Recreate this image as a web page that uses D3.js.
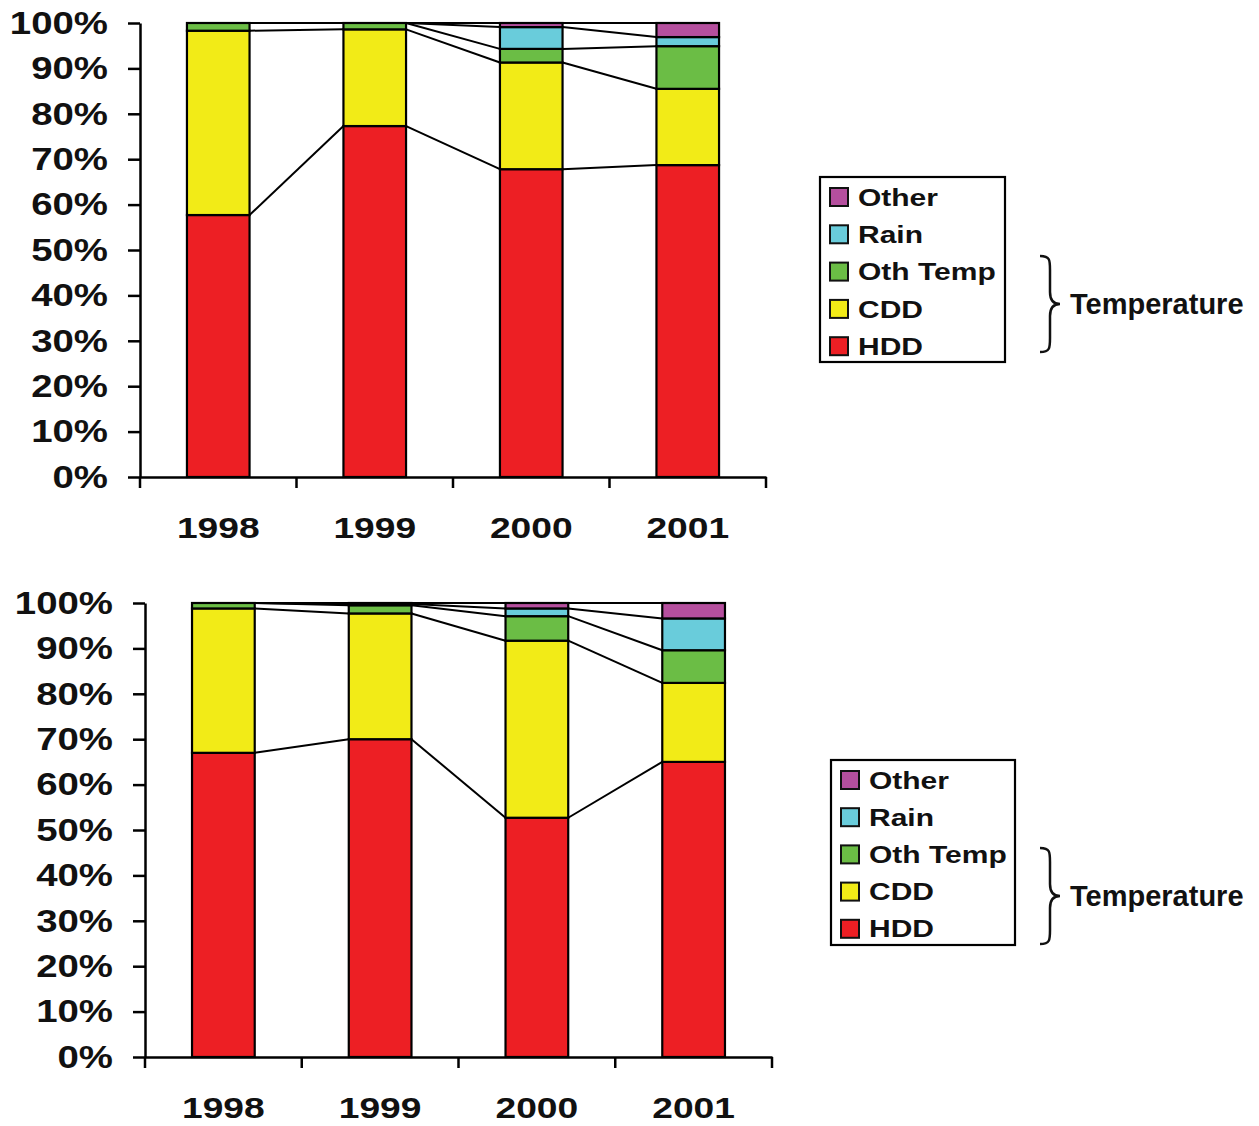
<!DOCTYPE html>
<html><head><meta charset="utf-8">
<script src="https://cdn.jsdelivr.net/npm/d3@7"></script>
<style>body{margin:0;background:#fff}svg{display:block}</style>
</head><body>
<svg id="c" width="1259" height="1126"></svg>
<script>
// ---- data ----
const years = ["1998", "1999", "2000", "2001"];
const seriesNames = ["HDD", "CDD", "Oth Temp", "Rain", "Other"];
const seriesColors = ["#ed1f24", "#f2eb17", "#6bbd45", "#69ccdb", "#b54f9e"];
const yTicks = [0, 0.1, 0.2, 0.3, 0.4, 0.5, 0.6, 0.7, 0.8, 0.9, 1.0];
const braceLabel = "Temperature";

// top chart (% share)
const topHDD     = [57.7, 77.3, 67.8, 68.7];
const topCDD     = [40.6, 21.3, 23.5, 16.8];
const topOthTemp = [1.7, 1.4, 3.0, 9.4];
const topRain    = [0.0, 0.0, 4.8, 2.0];
const topOther   = [0.0, 0.0, 0.9, 3.1];

// bottom chart (% share)
const botHDD     = [67.0, 70.0, 52.7, 65.0];
const botCDD     = [31.8, 27.7, 39.0, 17.4];
const botOthTemp = [1.2, 1.8, 5.4, 7.2];
const botRain    = [0.0, 0.3, 1.7, 7.0];
const botOther   = [0.0, 0.2, 1.2, 3.4];

const svg = d3.select("#c");
const font = "'Liberation Sans', Arial, sans-serif";

function drawChart(cfg, cols) {
  const rows = years.map((yr, i) => {
    const r = {year: yr};
    let tot = 0;
    seriesNames.forEach((s, k) => { r[s] = cols[k][i]; tot += cols[k][i]; });
    seriesNames.forEach(s => { r[s] = r[s] / tot; });
    return r;
  });
  const stacked = d3.stack().keys(seriesNames)(rows);

  const x = d3.scaleBand().domain(years).range([cfg.x0, cfg.x1])
    .paddingInner(0.6).paddingOuter(0.3);
  const y = d3.scaleLinear().domain([0, 1]).range([cfg.yb, cfg.yt]);
  const g = svg.append("g");

  // series lines
  stacked.forEach(layer => {
    for (let i = 0; i < years.length - 1; i++) {
      g.append("line")
        .attr("x1", x(years[i]) + x.bandwidth()).attr("y1", y(layer[i][1]))
        .attr("x2", x(years[i + 1])).attr("y2", y(layer[i + 1][1]))
        .attr("stroke", "#000").attr("stroke-width", 2);
    }
  });

  // bars
  stacked.forEach((layer, k) => {
    g.append("g").selectAll("rect").data(layer).join("rect")
      .attr("x", d => x(d.data.year))
      .attr("y", d => y(d[1]))
      .attr("width", x.bandwidth())
      .attr("height", d => y(d[0]) - y(d[1]))
      .attr("fill", seriesColors[k])
      .attr("stroke", "#000").attr("stroke-width", 2.2);
  });

  // y axis
  const ya = g.append("g").attr("transform", `translate(${cfg.x0},0)`)
    .call(d3.axisLeft(y).tickValues(yTicks).tickFormat(d3.format(".0%"))
      .tickSize(12).tickPadding(20).tickSizeOuter(0));
  ya.select(".domain").attr("stroke-width", 2.5);
  ya.selectAll(".tick line").attr("stroke-width", 2.5);
  const ys = 1.2;
  ya.selectAll("text").attr("font-family", font).attr("font-weight", "bold")
    .attr("font-size", 32).attr("fill", "#111")
    .attr("x", -32 / ys).attr("transform", `scale(${ys},1)`);

  // x axis
  const xa = g.append("g").attr("transform", `translate(0,${cfg.yb})`)
    .call(d3.axisBottom(x).tickSize(0).tickPadding(40).tickSizeOuter(0));
  xa.select(".domain").attr("stroke-width", 2.5);
  xa.selectAll("text").attr("font-family", font).attr("font-weight", "bold")
    .attr("font-size", 30).attr("fill", "#111").attr("transform", "scale(1.24,1)");
  const bounds = d3.range(years.length + 1).map(i => x.range()[0] + i * x.step());
  xa.selectAll(".bt").data(bounds).join("line")
    .attr("x1", d => d).attr("x2", d => d).attr("y1", 0).attr("y2", 11)
    .attr("stroke", "#000").attr("stroke-width", 2.5);

  // legend
  const L = cfg.legend;
  g.append("rect").attr("x", L.x).attr("y", L.y).attr("width", L.w).attr("height", L.h)
    .attr("fill", "#fff").attr("stroke", "#000").attr("stroke-width", 2.2);
  const order = seriesNames.map((s, k) => k).reverse();
  const ls = 1.25;
  order.forEach((k, j) => {
    const cy = L.y + 20 + j * L.dy;
    g.append("rect").attr("x", L.x + 10).attr("y", cy - 9).attr("width", 18).attr("height", 18)
      .attr("fill", seriesColors[k]).attr("stroke", "#111").attr("stroke-width", 2);
    g.append("text").attr("x", (L.x + 38) / ls).attr("y", cy).attr("dy", "0.36em")
      .attr("transform", `scale(${ls},1)`)
      .attr("font-family", font).attr("font-weight", "bold").attr("font-size", 24)
      .attr("fill", "#111").text(seriesNames[k]);
  });

  // brace
  const b = cfg.brace;
  const m = (b.y0 + b.y1) / 2;
  const p = `M${b.x},${b.y0} C${b.x + 10},${b.y0} ${b.x + 10},${b.y0 + 4} ${b.x + 10},${b.y0 + 14}
    L${b.x + 10},${m - 12} C${b.x + 10},${m - 3} ${b.x + 14},${m} ${b.x + 20},${m}
    C${b.x + 14},${m} ${b.x + 10},${m + 3} ${b.x + 10},${m + 12}
    L${b.x + 10},${b.y1 - 14} C${b.x + 10},${b.y1 - 4} ${b.x + 10},${b.y1} ${b.x},${b.y1}`;
  g.append("path").attr("d", p).attr("fill", "none").attr("stroke", "#111").attr("stroke-width", 2.5);
  g.append("text").attr("x", b.x + 30).attr("y", m).attr("dy", "0.36em")
    .attr("font-family", font).attr("font-weight", "bold")
    .attr("font-size", 29).attr("fill", "#111").text(braceLabel);
}

drawChart({
  x0: 140, x1: 766, yt: 23, yb: 477,
  legend: {x: 820, y: 177, w: 185, h: 185, dy: 37.3},
  brace: {x: 1040, y0: 256, y1: 352}
}, [topHDD, topCDD, topOthTemp, topRain, topOther]);

drawChart({
  x0: 145, x1: 772, yt: 603, yb: 1057,
  legend: {x: 831, y: 760, w: 184, h: 185, dy: 37.2},
  brace: {x: 1040, y0: 848, y1: 944}
}, [botHDD, botCDD, botOthTemp, botRain, botOther]);
</script>
</body></html>
